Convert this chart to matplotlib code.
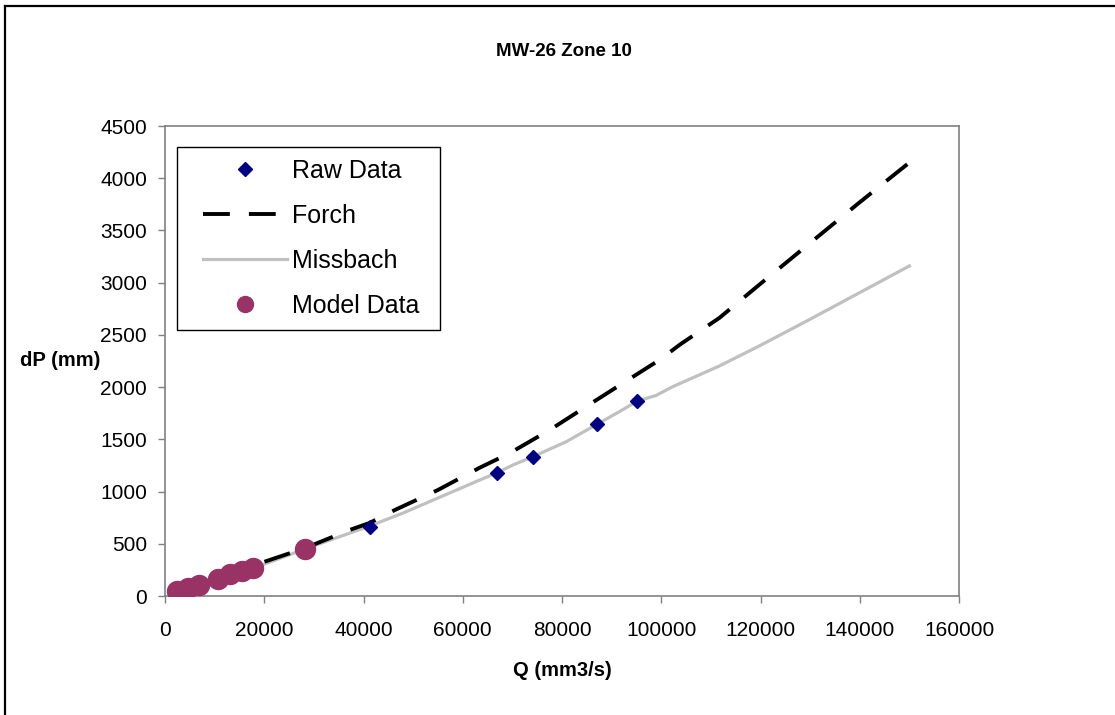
import matplotlib.pyplot as plt
from matplotlib.lines import Line2D
from matplotlib.patches import Rectangle

plt.rcParams['font.family'] = ['Liberation Sans', 'DejaVu Sans']

# raw measurements
raw_q = [41260, 66820, 74060, 87150, 95200]
raw_dp = [660, 1178, 1331, 1647, 1867]

# model points
model_q = [2480, 4700, 6900, 10600, 13080, 15430, 17650, 28300]
model_dp = [51, 74, 108, 166, 210, 242, 265, 450]

# Forch fit
forch_q = [2500, 10000, 19100, 28300, 37200, 41250, 46300, 55000, 63400, 69400,
           77500, 87150, 99600, 104000, 111700, 120000, 130000, 140000, 150000]
forch_dp = [50, 165, 313, 460, 632, 700, 823, 1015, 1228, 1366,
            1589, 1883, 2259, 2415, 2662, 2990, 3380, 3770, 4150]

# Missbach fit
miss_q = [2500, 10000, 17600, 28300, 41250, 48000, 63400, 66800, 70100, 74000,
          80850, 87150, 91570, 95200, 98960, 102300, 111700, 120000, 130000, 140000, 150000]
miss_dp = [50, 160, 262, 452, 670, 795, 1110, 1178, 1254, 1331,
           1477, 1647, 1765, 1867, 1920, 2004, 2202, 2400, 2650, 2905, 3160]

fig = plt.figure(figsize=(11.15, 7.15), dpi=100)
ax = fig.add_axes([165/1115, 1 - 596/715, (959 - 165)/1115, (596 - 126)/715])

ax.plot(raw_q, raw_dp, 'D', color='#000080', markersize=7, label='Raw Data', zorder=4)
ax.plot(forch_q, forch_dp, color='black', lw=2.8, dashes=(6.9, 4.9), label='Forch', zorder=3)
ax.plot(miss_q, miss_dp, color='#C0C0C0', lw=2.3, label='Missbach', zorder=2)
ax.plot(model_q, model_dp, 'o', color='#993366', markersize=14.4, label='Model Data', zorder=5)

ax.set_xlim(0, 160000)
ax.set_ylim(0, 4500)
ax.set_xticks(range(0, 160001, 20000))
ax.set_yticks(range(0, 4501, 500))
for s in ax.spines.values():
    s.set_color('#808080')
    s.set_linewidth(1.2)
ax.tick_params(direction='out', length=5, width=1, color='#808080', labelsize=15)
ax.tick_params(axis='x', pad=13)
ax.tick_params(axis='y', pad=8)

# legend box drawn separately so the inner padding matches
ax.add_patch(Rectangle((12/794, (596 - 330)/470), 263/794, 183/470, transform=ax.transAxes,
                       facecolor='white', edgecolor='black', lw=1.0, zorder=6))
leg = ax.legend(loc='upper left', bbox_to_anchor=(38/794, (596 - 159)/470), fontsize=18,
                frameon=False, borderpad=0, labelspacing=0.84, handlelength=3.35,
                handletextpad=0.2, borderaxespad=0)
leg.set_zorder(7)
for h in leg.legend_handles:
    if h.get_label() == 'Model Data':
        h.set_markersize(11.5)

fig.text(564/1115, 1 - 51/715, 'MW-26 Zone 10', ha='center', va='center',
         fontsize=13.5, fontweight='bold')
fig.text(562/1115, 1 - 670/715, 'Q (mm3/s)', ha='center', va='center',
         fontsize=14.5, fontweight='bold')
fig.text(20/1115, 1 - 360/715, 'dP (mm)', ha='left', va='center',
         fontsize=14.5, fontweight='bold')

# outer chart border (top and left edges visible)
fig.add_artist(Line2D([5/1115, 1], [1 - 6/715, 1 - 6/715], color='black', lw=1.6,
                      transform=fig.transFigure))
fig.add_artist(Line2D([5/1115, 5/1115], [0, 1 - 6/715], color='black', lw=1.6,
                      transform=fig.transFigure))

fig.savefig('out.png', dpi=100)
